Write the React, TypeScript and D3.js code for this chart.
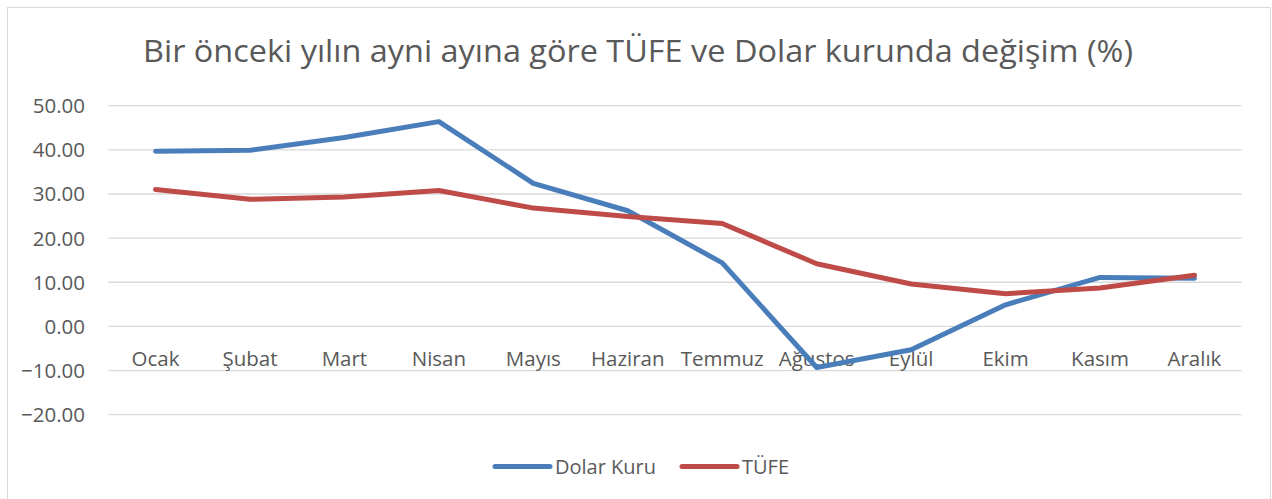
import { useRef, useEffect } from 'react'
import * as d3 from 'd3'

const MONTHS = ['Ocak', 'Şubat', 'Mart', 'Nisan', 'Mayıs', 'Haziran', 'Temmuz', 'Ağustos', 'Eylül', 'Ekim', 'Kasım', 'Aralık']
const DOLAR = [39.7, 39.9, 42.8, 46.4, 32.4, 26.2, 14.4, -9.3, -5.3, 4.9, 11.1, 10.9]
const TUFE = [31.0, 28.8, 29.3, 30.8, 26.8, 24.9, 23.3, 14.2, 9.6, 7.4, 8.7, 11.6]
const Y_TICKS = [-20, -10, 0, 10, 20, 30, 40, 50]

const SERIES = [
  { name: 'Dolar Kuru', values: DOLAR, color: '#4a7ebb' },
  { name: 'TÜFE', values: TUFE, color: '#be4b48' },
]

const FONT = "'Open Sans', sans-serif"
const TEXT = '#595959'

export default function App() {
  const svgRef = useRef<SVGSVGElement>(null)

  useEffect(() => {
    if (!svgRef.current) return
    const W = 1272
    const H = 499
    const svg = d3.select(svgRef.current)
    svg.selectAll('*').remove()

    // chart frame
    svg.append('rect')
      .attr('x', 7.5).attr('y', 7.5)
      .attr('width', W - 9).attr('height', H)
      .attr('fill', '#fff').attr('stroke', '#d9d9d9').attr('stroke-width', 1)

    svg.append('text')
      .attr('x', 638).attr('y', 62)
      .attr('text-anchor', 'middle')
      .attr('fill', TEXT).attr('font-family', FONT).attr('font-size', 31)
      .attr('textLength', 990).attr('lengthAdjust', 'spacingAndGlyphs')
      .text('Bir önceki yılın ayni ayına göre TÜFE ve Dolar kurunda değişim (%)')

    const x = d3.scaleBand().domain(MONTHS).range([108.3, 1241.7])
    const y = d3.scaleLinear().domain([-20, 50]).range([414.7, 105.7])

    // grid
    svg.append('g').selectAll('line').data(Y_TICKS).enter().append('line')
      .attr('x1', 108.3).attr('x2', 1241.7)
      .attr('y1', d => y(d)).attr('y2', d => y(d))
      .attr('stroke', '#d9d9d9').attr('stroke-width', 1.3)

    // y labels
    svg.append('g').selectAll('text').data(Y_TICKS).enter().append('text')
      .attr('x', 85).attr('y', d => y(d))
      .attr('dy', '0.36em')
      .attr('text-anchor', 'end')
      .attr('fill', TEXT).attr('font-family', FONT).attr('font-size', 20.5)
      .text(d => d3.format('.2f')(d))

    // category labels
    svg.append('g').selectAll('text').data(MONTHS).enter().append('text')
      .attr('x', d => (x(d) ?? 0) + x.bandwidth() / 2)
      .attr('y', 365.5)
      .attr('text-anchor', 'middle')
      .attr('fill', TEXT).attr('font-family', FONT).attr('font-size', 20.5)
      .text(d => d)

    const line = d3.line<number>()
      .x((_, i) => (x(MONTHS[i]) ?? 0) + x.bandwidth() / 2)
      .y(d => y(d))

    SERIES.forEach(s => {
      svg.append('path')
        .attr('d', line(s.values))
        .attr('fill', 'none')
        .attr('stroke', s.color)
        .attr('stroke-width', 5)
        .attr('stroke-linejoin', 'round')
        .attr('stroke-linecap', 'round')
    })

    // legend
    const legend = [
      { x1: 495, x2: 550, tx: 555 },
      { x1: 682, x2: 737, tx: 742 },
    ]
    SERIES.forEach((s, i) => {
      const l = legend[i]
      svg.append('line')
        .attr('x1', l.x1).attr('x2', l.x2)
        .attr('y1', 466.5).attr('y2', 466.5)
        .attr('stroke', s.color).attr('stroke-width', 5).attr('stroke-linecap', 'round')
      svg.append('text')
        .attr('x', l.tx).attr('y', 466.5).attr('dy', '0.36em')
        .attr('fill', TEXT).attr('font-family', FONT).attr('font-size', 20)
        .text(s.name)
    })
  }, [])

  return (
    <svg ref={svgRef} width={1272} height={499}
      style={{ position: 'absolute', left: 0, top: 0, display: 'block' }} />
  )
}
